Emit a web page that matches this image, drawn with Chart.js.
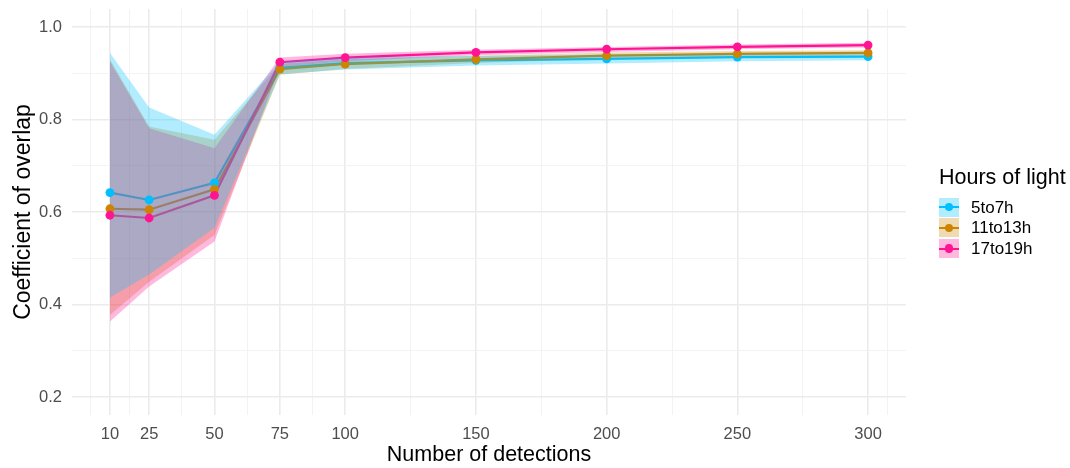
<!DOCTYPE html>
<html lang="en-US">
<head>
  <meta charset="utf-8">
  <title>Coefficient of overlap by number of detections</title>
  <script src="https://cdn.jsdelivr.net/npm/chart.js@4.4.1/dist/chart.umd.min.js"></script>
  <style>
    body { margin: 0; background: #fff; }
    #wrap { position: relative; width: 1070px; height: 468px; font-family: "Liberation Sans", Arial, sans-serif; }
    #legend { position: absolute; left: 939px; top: 167px; }
    #legend .title { font-size: 21.5px; line-height: 21.5px; color: #000; margin-bottom: 9px; white-space: nowrap; }
    #legend .row { position: relative; height: 20.7px; }
    #legend .key { position: absolute; left: 0; top: 0; width: 20px; height: 19.3px; }
    #legend .key .ln { position: absolute; left: 0; right: 0; top: 8.7px; height: 2px; }
    #legend .key .pt { position: absolute; left: 5.7px; top: 5.4px; width: 8.6px; height: 8.6px; border-radius: 50%; }
    #legend .lab { position: absolute; left: 32px; top: 0; font-size: 17px; line-height: 19.3px; color: #000; white-space: nowrap; }
  </style>
</head>
<body>
  <div id="wrap">
    <canvas id="chart" width="1070" height="468"></canvas>
    <div id="legend"></div>
  </div>
  <script>
    // values
    const detections = [10, 25, 50, 75, 100, 150, 200, 250, 300];
    const seriesNames = ['5to7h', '11to13h', '17to19h'];

    const mean5to7 = [0.642, 0.626, 0.663, 0.912, 0.922, 0.928, 0.931, 0.935, 0.936];
    const lower5to7 = [0.415, 0.465, 0.566, 0.898, 0.908, 0.917, 0.921, 0.926, 0.928];
    const upper5to7 = [0.944, 0.826, 0.767, 0.925, 0.934, 0.938, 0.940, 0.943, 0.944];

    const mean11to13 = [0.607, 0.605, 0.649, 0.909, 0.920, 0.930, 0.938, 0.942, 0.944];
    const lower11to13 = [0.377, 0.449, 0.550, 0.897, 0.909, 0.922, 0.931, 0.936, 0.938];
    const upper11to13 = [0.930, 0.785, 0.756, 0.920, 0.930, 0.938, 0.945, 0.948, 0.950];

    const mean17to19 = [0.593, 0.587, 0.636, 0.924, 0.934, 0.945, 0.952, 0.957, 0.961];
    const lower17to19 = [0.363, 0.439, 0.536, 0.914, 0.926, 0.939, 0.946, 0.952, 0.956];
    const upper17to19 = [0.925, 0.781, 0.738, 0.934, 0.942, 0.951, 0.957, 0.962, 0.966];

    const xMajorTicks = [10, 25, 50, 75, 100, 150, 200, 250, 300];
    const xMinorTicks = [2.5, 17.5, 37.5, 62.5, 87.5, 125, 175, 225, 275, 307.5];
    const yMajorTicks = [0.2, 0.4, 0.6, 0.8, 1.0];
    const yMinorTicks = [0.3, 0.5, 0.7, 0.9];

    const colors = ['#00BFFF', '#CD8500', '#FF1493'];
    const fills = ['rgba(0,191,255,0.3)', 'rgba(205,133,0,0.3)', 'rgba(255,20,147,0.3)'];

    const series = [
      { mean: mean5to7, lower: lower5to7, upper: upper5to7, ribbonOrder: 10 },
      { mean: mean11to13, lower: lower11to13, upper: upper11to13, ribbonOrder: 12 },
      { mean: mean17to19, lower: lower17to19, upper: upper17to19, ribbonOrder: 11 },
    ];

    function toPoints(values) {
      return detections.map((x, i) => ({ x: x, y: values[i] }));
    }

    const datasets = [];
    series.forEach((s, i) => {
      // ribbon: lower edge, then upper edge filled down to it
      datasets.push({
        label: seriesNames[i] + ' lower', data: toPoints(s.lower),
        borderColor: 'transparent', borderWidth: 0, pointRadius: 0, fill: false, order: s.ribbonOrder,
      });
      datasets.push({
        label: seriesNames[i] + ' upper', data: toPoints(s.upper),
        borderColor: 'transparent', borderWidth: 0, pointRadius: 0,
        fill: '-1', backgroundColor: fills[i], order: s.ribbonOrder,
      });
    });
    series.forEach((s, i) => {
      datasets.push({
        label: seriesNames[i] + ' line', data: toPoints(s.mean),
        borderColor: colors[i], borderWidth: 2.2, pointRadius: 0, fill: false, order: 22 - i,
      });
      datasets.push({
        label: seriesNames[i], data: toPoints(s.mean), showLine: false,
        pointRadius: 4.4, pointBorderWidth: 0, pointBackgroundColor: colors[i], order: 2 - i,
      });
    });

    const fontFamily = '"Liberation Sans", Arial, sans-serif';
    const tickFont = { family: fontFamily, size: 16.5 };
    const titleFont = { family: fontFamily, size: 21.5 };

    function gridWidth(ctx, majors) {
      if (!ctx.tick) return 0;
      return majors.some(v => Math.abs(v - ctx.tick.value) < 1e-6) ? 1.6 : 0.9;
    }
    function gridColor(ctx, majors) {
      if (!ctx.tick) return 'transparent';
      return majors.some(v => Math.abs(v - ctx.tick.value) < 1e-6) ? '#EBEBEB' : '#F2F2F2';
    }

    new Chart(document.getElementById('chart'), {
      type: 'line',
      data: { datasets },
      options: {
        responsive: false,
        animation: false,
        events: [],
        layout: { padding: { top: 9, right: 164, left: 0, bottom: 0 } },
        elements: { line: { tension: 0 } },
        plugins: { legend: { display: false }, tooltip: { enabled: false } },
        scales: {
          x: {
            type: 'linear', min: -4.5, max: 314.5,
            afterFit(scale) { scale.height = 53; scale.paddingLeft = 0; scale.paddingRight = 0; },
            afterBuildTicks(scale) {
              scale.ticks = xMinorTicks.concat(xMajorTicks).sort((a, b) => a - b).map(v => ({ value: v }));
            },
            ticks: {
              autoSkip: false, maxRotation: 0, padding: 10, color: '#4D4D4D', font: tickFont,
              callback: v => xMajorTicks.includes(v) ? String(v) : '',
            },
            grid: {
              drawTicks: false,
              lineWidth: ctx => gridWidth(ctx, xMajorTicks),
              color: ctx => gridColor(ctx, xMajorTicks),
            },
            border: { display: false },
            title: {
              display: true, text: 'Number of detections', color: '#000', font: titleFont,
              padding: { top: 0, bottom: 0 },
            },
          },
          y: {
            type: 'linear', min: 0.161, max: 1.039,
            afterFit(scale) { scale.width = 72; scale.paddingTop = 0; scale.paddingBottom = 0; },
            afterBuildTicks(scale) {
              scale.ticks = yMinorTicks.concat(yMajorTicks).sort((a, b) => a - b).map(v => ({ value: v }));
            },
            ticks: {
              autoSkip: false, padding: 10, color: '#4D4D4D', font: tickFont,
              callback: v => yMajorTicks.some(m => Math.abs(m - v) < 1e-6) ? v.toFixed(1) : '',
            },
            grid: {
              drawTicks: false,
              lineWidth: ctx => gridWidth(ctx, yMajorTicks),
              color: ctx => gridColor(ctx, yMajorTicks),
            },
            border: { display: false },
            title: {
              display: true, text: 'Coefficient of overlap', color: '#000',
              font: { family: fontFamily, size: 23 },
              padding: { top: 10, bottom: 0 },
            },
          },
        },
      },
    });

    // legend in ggplot style: ribbon fill, line and point in each key
    const legend = document.getElementById('legend');
    const title = document.createElement('div');
    title.className = 'title';
    title.textContent = 'Hours of light';
    legend.appendChild(title);
    seriesNames.forEach((name, i) => {
      const row = document.createElement('div');
      row.className = 'row';
      row.innerHTML =
        '<div class="key" style="background:' + fills[i] + '">' +
        '<div class="ln" style="background:' + colors[i] + '"></div>' +
        '<div class="pt" style="background:' + colors[i] + '"></div></div>' +
        '<div class="lab">' + name + '</div>';
      legend.appendChild(row);
    });
  </script>
</body>
</html>
